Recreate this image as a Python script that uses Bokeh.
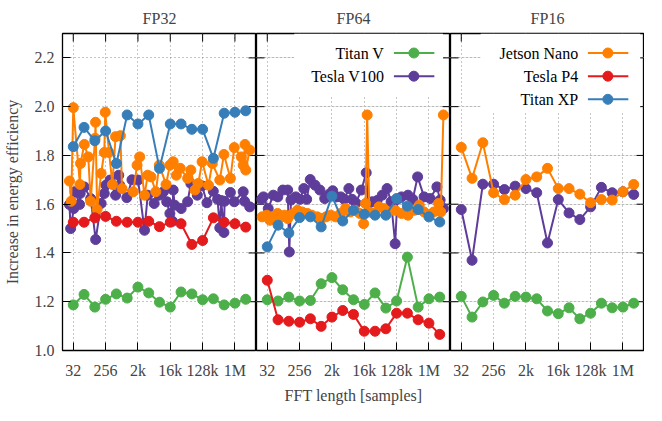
from bokeh.plotting import figure
from bokeh.layouts import gridplot
from bokeh.models import FixedTicker, Grid, Range1d, ColumnDataSource, PrintfTickFormatter
from bokeh.core.properties import value
from bokeh.embed import file_html
from bokeh.resources import INLINE

# ---------------- data ----------------
x_ticks = [32, 256, 2048, 16384, 131072, 1048576]
x_tick_labels = ["32", "256", "2k", "16k", "128k", "1M"]
y_ticks = [1.0, 1.2, 1.4, 1.6, 1.8, 2.0, 2.2]

lengths_oct = [32, 64, 128, 256, 512, 1024, 2048, 4096, 8192, 16384, 32768,
               65536, 131072, 262144, 524288, 1048576, 2097152]

# FP32
fp32_titan_v = [1.187, 1.230, 1.178, 1.210, 1.232, 1.215, 1.260, 1.236, 1.198,
                1.178, 1.240, 1.232, 1.208, 1.212, 1.187, 1.194, 1.210]
fp32_tesla_p4 = [1.526, 1.526, 1.544, 1.550, 1.530, 1.526, 1.526, 1.530, 1.508,
                 1.526, 1.520, 1.435, 1.451, 1.544, 1.526, 1.520, 1.506]
fp32_titan_xp = [1.836, 1.915, 1.860, 1.900, 1.767, 1.966, 1.929, 1.966, 1.747,
                 1.929, 1.929, 1.907, 1.907, 1.788, 1.973, 1.977, 1.983]
fp32_v100_len = [25, 27, 33, 36, 48, 50, 65, 98, 135, 192, 235, 261, 341, 486, 596,
                 634, 1000, 1395, 2063, 3127, 3836, 5812, 7925, 10610, 13020, 15980,
                 18900, 19730, 21790, 33030, 50040, 61450, 93100, 126900, 173200,
                 260900, 342800, 395400, 433700, 516300, 539000, 782300, 1002000,
                 1784000, 1947000, 2709000]
fp32_v100 = [1.599, 1.500, 1.582, 1.651, 1.599, 1.644, 1.671, 1.623, 1.455, 1.603,
             1.644, 1.678, 1.699, 1.637, 1.719, 1.678, 1.627, 1.700, 1.699, 1.493,
             1.637, 1.603, 1.637, 1.651, 1.610, 1.562, 1.530, 1.658, 1.596, 1.582,
             1.610, 1.685, 1.637, 1.675, 1.606, 1.653, 1.620, 1.503, 1.615, 1.484,
             1.612, 1.648, 1.610, 1.651, 1.612, 1.589]
fp32_nano_len = [25, 28, 32, 49, 51, 65, 84, 98, 130, 134, 148, 192, 235, 250, 320,
                 396, 486, 662, 736, 1512, 1937, 2291, 3127, 3836, 4737, 6458, 8080,
                 12470, 15980, 19730, 24220, 31040, 50040, 61450, 80200, 99040,
                 126900, 191200, 245100, 395400, 516300, 782300, 1002000, 1576000,
                 1784000, 2000000, 2100000, 2709000]
fp32_nano = [1.695, 1.612, 1.996, 1.681, 1.767, 1.845, 1.794, 1.612, 1.870, 1.936,
             1.578, 1.726, 1.812, 1.977, 1.812, 1.681, 1.877, 1.881, 1.664, 1.651,
             1.760, 1.794, 1.637, 1.719, 1.712, 1.651, 1.760, 1.681, 1.760, 1.774,
             1.719, 1.747, 1.706, 1.740, 1.658, 1.685, 1.774, 1.678, 1.767, 1.699,
             1.804, 1.706, 1.832, 1.794, 1.760, 1.845, 1.740, 1.822]

# FP64
fp64_titan_v = [1.208, 1.203, 1.219, 1.203, 1.205, 1.274, 1.299, 1.249, 1.208,
                1.189, 1.236, 1.174, 1.203, 1.383, 1.178, 1.212, 1.219]
fp64_tesla_p4 = [1.288, 1.126, 1.120, 1.116, 1.130, 1.099, 1.137, 1.164, 1.148,
                 1.079, 1.079, 1.089, 1.153, 1.153, 1.126, 1.112, 1.066]
fp64_titan_xp = [1.425, 1.514, 1.482, 1.545, 1.548, 1.507, 1.633, 1.531, 1.575,
                 1.559, 1.555, 1.555, 1.623, 1.592, 1.578, 1.548, 1.527]
fp64_v100_len = [22, 25, 34, 47, 63, 87, 119, 132, 147, 200, 261, 335, 403, 507, 692,
                 944, 1287, 1680, 2153, 2760, 3605, 4535, 6072, 7450, 9550, 13590,
                 18560, 20730, 27370, 37370, 51950, 70850, 92000, 119300, 137600,
                 179700, 272300, 370700, 506000, 767000, 1135000, 1751000, 2152000,
                 2657000]
fp64_v100 = [1.620, 1.630, 1.582, 1.637, 1.630, 1.658, 1.658, 1.404, 1.617, 1.630,
             1.620, 1.664, 1.620, 1.701, 1.678, 1.658, 1.623, 1.640, 1.655, 1.630,
             1.630, 1.620, 1.664, 1.620, 1.605, 1.658, 1.729, 1.600, 1.610, 1.615,
             1.637, 1.664, 1.610, 1.438, 1.620, 1.630, 1.637, 1.620, 1.712, 1.630,
             1.623, 1.671, 1.617, 1.582]
fp64_nano_len = [23, 31, 38, 47, 62, 79, 97, 119, 159, 221, 301, 421, 560, 798, 1042,
                 1395, 1902, 2593, 3605, 4915, 6580, 8970, 12240, 15680, 17770, 19740,
                 22770, 31040, 42330, 57710, 78690, 119300, 179700, 272300, 412600,
                 562500, 767000, 1046000, 1427000, 1947000, 2246000, 2657000]
fp64_nano = [1.548, 1.555, 1.534, 1.550, 1.562, 1.548, 1.555, 1.541, 1.560, 1.575,
             1.568, 1.562, 1.555, 1.548, 1.541, 1.548, 1.555, 1.548, 1.562, 1.582,
             1.568, 1.575, 1.562, 1.520, 1.603, 1.966, 1.568, 1.562, 1.589, 1.582,
             1.568, 1.575, 1.562, 1.555, 1.575, 1.596, 1.568, 1.555, 1.568, 1.603,
             1.568, 1.966]

# FP16
fp16_titan_v = [1.222, 1.137, 1.199, 1.226, 1.194, 1.222, 1.219, 1.212, 1.162,
                1.151, 1.175, 1.130, 1.153, 1.194, 1.175, 1.178, 1.194]
fp16_v100 = [1.578, 1.370, 1.682, 1.682, 1.660, 1.674, 1.664, 1.647, 1.441,
             1.619, 1.564, 1.537, 1.589, 1.669, 1.647, 1.651, 1.640]
fp16_nano = [1.833, 1.706, 1.852, 1.647, 1.619, 1.637, 1.701, 1.712, 1.747,
             1.664, 1.664, 1.641, 1.606, 1.619, 1.617, 1.651, 1.681]

colors = {"Titan V": "#4daf4a", "Tesla V100": "#5e3c99", "Jetson Nano": "#ff7f00",
          "Tesla P4": "#e41a1c", "Titan XP": "#377eb8"}

# ---------------- layout / style ----------------
FONT = "'Liberation Serif', 'Times New Roman', serif"
FS = "16px"
FRAME_W, FRAME_H = 194, 317
X_LO, X_HI = 16, 4194304
Y_LO, Y_HI = 1.0, 2.3
TICK = 8
DY = TICK * (Y_HI - Y_LO) / FRAME_H          # tick length in data units (y)
FX = 2 ** (TICK * 18.0 / FRAME_W)            # tick length as factor (log x)


def style_axis(ax, standoff):
    ax.axis_line_color = None
    ax.major_tick_in = TICK
    ax.major_tick_out = 0
    ax.major_tick_line_color = "black"
    ax.major_tick_line_width = 1
    ax.minor_tick_line_color = None
    ax.major_label_text_font = FONT
    ax.major_label_text_font_size = FS
    ax.major_label_standoff = standoff
    ax.axis_label_text_font = FONT
    ax.axis_label_text_font_size = FS
    ax.axis_label_text_font_style = "normal"


def panel(title, series, first=False, xlabel=None, legend=None):
    p = figure(frame_width=FRAME_W, frame_height=FRAME_H, x_axis_type="log",
               x_range=Range1d(X_LO, X_HI), y_range=Range1d(Y_LO, Y_HI),
               output_backend="svg", toolbar_location=None,
               y_axis_location="left" if first else None,
               min_border=0, min_border_left=62 if first else 0,
               min_border_top=33, min_border_bottom=55, min_border_right=0)
    p.outline_line_color = "black"
    p.outline_line_width = 1.3
    p.title.text = title
    p.title.align = "center"
    p.title.text_font = FONT
    p.title.text_font_size = FS
    p.title.text_font_style = "normal"
    p.title.standoff = 13

    xt = FixedTicker(ticks=x_ticks, minor_ticks=[])
    yt = FixedTicker(ticks=y_ticks, minor_ticks=[])

    xa = p.xaxis[0]
    xa.ticker = xt
    xa.major_label_overrides = {t: l for t, l in zip(x_ticks, x_tick_labels)}
    style_axis(xa, 11)
    if xlabel:
        xa.axis_label = xlabel
        xa.axis_label_standoff = 5

    if first:
        ya = p.yaxis[0]
        ya.ticker = yt
        ya.formatter = PrintfTickFormatter(format="%.1f")
        style_axis(ya, 8)
        ya.axis_label = "Increase in energy efficiency"
        ya.axis_label_standoff = 11
        yg = p.ygrid[0]
    else:
        yg = Grid(dimension=1, ticker=yt)
        p.add_layout(yg)

    for g in (p.xgrid[0], yg):
        g.grid_line_color = "#8c8c8c"
        g.grid_line_dash = "1 3"
        g.grid_line_width = 1
    p.xgrid[0].ticker = xt
    yg.ticker = yt

    # mirrored tick marks (top edge, right edge, and left edge of inner panels)
    p.segment(x0=x_ticks, x1=x_ticks, y0=[Y_HI] * len(x_ticks),
              y1=[Y_HI - DY] * len(x_ticks), line_color="black", line_width=1)
    p.segment(x0=[X_HI] * len(y_ticks), x1=[X_HI / FX] * len(y_ticks),
              y0=y_ticks, y1=y_ticks, line_color="black", line_width=1)
    if not first:
        p.segment(x0=[X_LO] * len(y_ticks), x1=[X_LO * FX] * len(y_ticks),
                  y0=y_ticks, y1=y_ticks, line_color="black", line_width=1)

    for name, xs, ys in series:
        c = colors[name]
        src = ColumnDataSource(dict(x=xs, y=ys))
        p.line("x", "y", source=src, line_color=c, line_width=2)
        p.scatter("x", "y", source=src, marker="circle", size=10,
                  fill_color=c, line_color=c)

    if legend:
        entries, box = legend
        p.quad(left=2 ** box[0], right=2 ** box[1], bottom=box[2], top=box[3],
               fill_color="white", line_color=None)
        row_y = [2.22, 2.125, 2.03][:len(entries)]
        n = len(entries)
        lsrc = ColumnDataSource(dict(
            tx=[2 ** 15.85] * n, y=row_y, text=entries,
            x0=[2 ** 16.75] * n, x1=[2 ** 20.5] * n,
            xm=[2 ** 18.6] * n, c=[colors[e] for e in entries]))
        p.text(x="tx", y="y", text="text", source=lsrc, text_align="right",
               text_baseline="middle", text_font=value(FONT),
               text_font_size=FS, text_color="black")
        p.segment(x0="x0", x1="x1", y0="y", y1="y", source=lsrc,
                  line_color="c", line_width=2)
        p.scatter(x="xm", y="y", source=lsrc, marker="circle", size=10,
                  fill_color="c", line_color="c")
    return p


p1 = panel("FP32", [
    ("Titan V", lengths_oct, fp32_titan_v),
    ("Tesla V100", fp32_v100_len, fp32_v100),
    ("Jetson Nano", fp32_nano_len, fp32_nano),
    ("Tesla P4", lengths_oct, fp32_tesla_p4),
    ("Titan XP", lengths_oct, fp32_titan_xp),
], first=True)

p2 = panel("FP64", [
    ("Titan V", lengths_oct, fp64_titan_v),
    ("Tesla V100", fp64_v100_len, fp64_v100),
    ("Jetson Nano", fp64_nano_len, fp64_nano),
    ("Tesla P4", lengths_oct, fp64_tesla_p4),
    ("Titan XP", lengths_oct, fp64_titan_xp),
], xlabel="FFT length [samples]",
    legend=(["Titan V", "Tesla V100"], (7.5, 21.3, 2.04, 2.3)))

p3 = panel("FP16", [
    ("Titan V", lengths_oct, fp16_titan_v),
    ("Tesla V100", lengths_oct, fp16_v100),
    ("Jetson Nano", lengths_oct, fp16_nano),
], legend=(["Jetson Nano", "Tesla P4", "Titan XP"], (6.8, 21.6, 1.975, 2.3)))

grid = gridplot([[p1, p2, p3]], toolbar_location=None)

open("out.html", "w").write(file_html(grid, INLINE))
